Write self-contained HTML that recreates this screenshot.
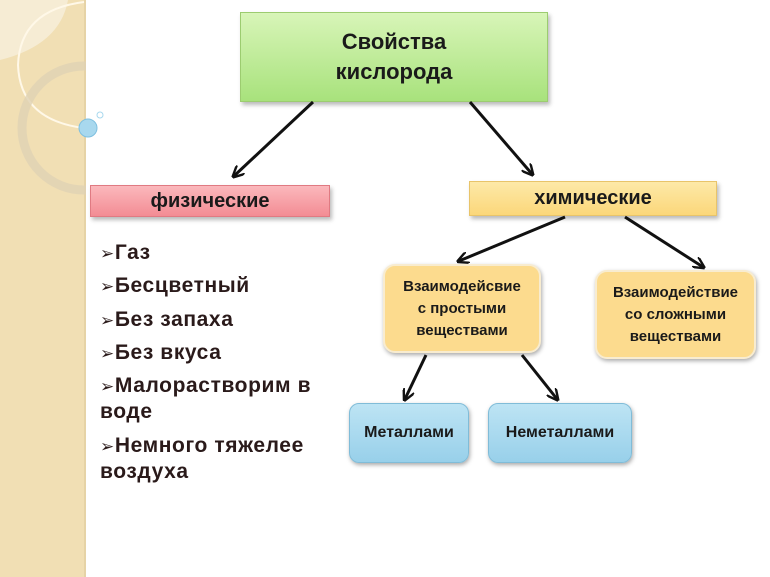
<!DOCTYPE html>
<html><head><meta charset="utf-8"><style>
body{margin:0;width:770px;height:577px;position:relative;background:#fff;font-family:"Liberation Sans","DejaVu Sans",sans-serif;overflow:hidden}
.b{position:absolute;display:flex;align-items:center;justify-content:center;text-align:center;box-sizing:border-box;color:#1a1a1a}
.li{position:absolute;left:100px;font-size:21px;font-weight:bold;color:#2a1a1a;line-height:25px;letter-spacing:0.6px}
.li span{font-size:17px}
</style></head><body>
<div style="position:absolute;left:0;top:0;width:84px;height:577px;background:#f1dfb4;border-right:2px solid #e6d3a6"></div>
<svg style="position:absolute;left:0;top:0" width="86" height="200">
<path d="M0 0 L68 0 Q60 45 0 60 Z" fill="#f6ecd4"/>
<path d="M84 2 Q20 10 18 65 Q20 120 84 128" fill="none" stroke="#fff8e8" stroke-width="2"/>
<circle cx="84" cy="128" r="62" fill="none" stroke="#e0d2b4" stroke-width="9" opacity="0.8"/>
</svg>
<svg style="position:absolute;left:0;top:0" width="120" height="200">
<circle cx="88" cy="128" r="9" fill="#a8d8ee" stroke="#7fc0e0"/>
<circle cx="100" cy="115" r="3" fill="none" stroke="#a8d8ee"/>
</svg>
<div class="b" style="left:240px;top:12px;width:308px;height:90px;background:linear-gradient(#d8f5b8,#a8e27c);border:1px solid #9ccc70;font-size:22px;font-weight:bold;line-height:30px;box-shadow:2px 3px 4px #bbb">Свойства<br>кислорода</div>
<div class="b" style="left:90px;top:185px;width:240px;height:32px;background:linear-gradient(#fbb8bc,#f38c94);border:1px solid #e07a82;font-size:20px;font-weight:bold;box-shadow:2px 3px 4px #bbb">физические</div>
<div class="b" style="left:469px;top:181px;width:248px;height:35px;background:linear-gradient(#fde9a8,#fbd77a);border:1px solid #e8c46a;font-size:20px;font-weight:bold;box-shadow:2px 3px 4px #bbb">химические</div>
<div class="b" style="left:383px;top:264px;width:158px;height:89px;background:#fcdb8e;border:2px solid #f8ecd0;border-radius:12px;font-size:15px;font-weight:bold;line-height:22px;box-shadow:1px 2px 4px #aaa">Взаимодейсвие<br>с простыми<br>веществами</div>
<div class="b" style="left:595px;top:270px;width:161px;height:89px;background:#fcdb8e;border:2px solid #f8ecd0;border-radius:12px;font-size:15px;font-weight:bold;line-height:22px;box-shadow:1px 2px 4px #aaa">Взаимодействие<br>со сложными<br>веществами</div>
<div class="b" style="left:349px;top:403px;width:120px;height:60px;background:linear-gradient(#bde4f4,#98d0ea);border:1px solid #80bcd8;border-radius:10px;font-size:16px;font-weight:bold;box-shadow:1px 2px 4px #aaa">Металлами</div>
<div class="b" style="left:488px;top:403px;width:144px;height:60px;background:linear-gradient(#bde4f4,#98d0ea);border:1px solid #80bcd8;border-radius:10px;font-size:16px;font-weight:bold;box-shadow:1px 2px 4px #aaa">Неметаллами</div>
<svg style="position:absolute;left:0;top:0" width="770" height="577">
<defs><marker id="a" viewBox="0 0 10 10" refX="8" refY="5" markerWidth="4" markerHeight="4" orient="auto"><path d="M0 0 L10 5 L0 10" fill="none" stroke="#111" stroke-width="2"/></marker></defs>
<g stroke="#111" stroke-width="3" marker-end="url(#a)">
<line x1="313" y1="102" x2="234" y2="176"/>
<line x1="470" y1="102" x2="532" y2="174"/>
<line x1="565" y1="217" x2="459" y2="261"/>
<line x1="625" y1="217" x2="703" y2="267"/>
<line x1="426" y1="355" x2="405" y2="399"/>
<line x1="522" y1="355" x2="557" y2="399"/>
</g></svg>
<div class="li" style="top:240px"><span>➢</span>Газ</div>
<div class="li" style="top:273px"><span>➢</span>Бесцветный</div>
<div class="li" style="top:307px"><span>➢</span>Без запаха</div>
<div class="li" style="top:340px"><span>➢</span>Без вкуса</div>
<div class="li" style="top:373px"><span>➢</span>Малорастворим в<br>воде</div>
<div class="li" style="top:433px"><span>➢</span>Немного тяжелее<br>воздуха</div>
</body></html>
